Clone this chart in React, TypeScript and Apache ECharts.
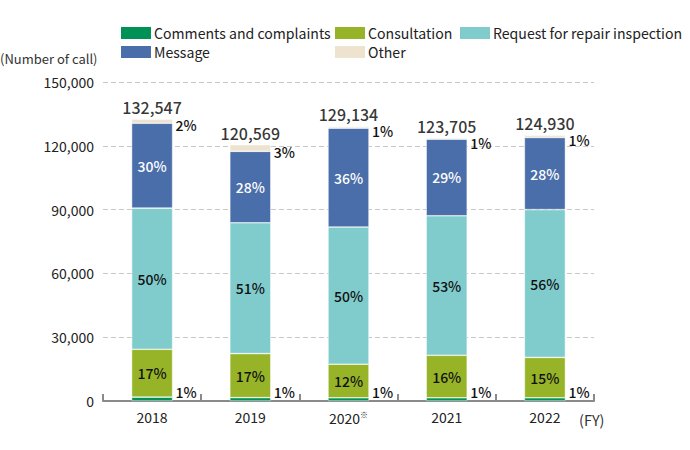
import React, { useEffect, useRef } from "react";
import * as echarts from "echarts";

const years = ["2018", "2019", "2020", "2021", "2022"];
const comments = [1800, 1600, 1500, 1500, 1500];
const consultation = [22500, 20700, 15800, 20000, 19000];
const request = [66400, 61500, 64500, 65600, 69500];
const message = [39900, 33600, 46500, 36000, 33900];
const other = [1947, 3169, 834, 605, 1030];
const totals = [132547, 120569, 129134, 123705, 124930];

const pctComments = ["1%", "1%", "1%", "1%", "1%"];
const pctConsultation = ["17%", "17%", "12%", "16%", "15%"];
const pctRequest = ["50%", "51%", "50%", "53%", "56%"];
const pctMessage = ["30%", "28%", "36%", "29%", "28%"];
const pctOther = ["2%", "3%", "1%", "1%", "1%"];

const seriesNames = ["Comments and complaints", "Consultation", "Request for repair inspection", "Message", "Other"];

const yTicks = { min: 0, max: 150000, interval: 30000 };

const FONT = "'Noto Sans CJK JP', 'Noto Sans', sans-serif";

const C = {
  comments: "#009157",
  consultation: "#97b428",
  request: "#80cccd",
  message: "#4a6ea9",
  other: "#eee3cf",
};
const colorList = [C.comments, C.consultation, C.request, C.message, C.other];

export default function App() {
  const ref = useRef<HTMLDivElement>(null);
  useEffect(() => {
    if (!ref.current) return;
    const chart = echarts.init(ref.current, null, { renderer: "svg" });
    const barW = 41;
    const seg = (
      name: string,
      data: number[],
      color: string,
      labels: string[],
      label: any
    ) => ({
      name,
      type: "bar",
      stack: "total",
      barWidth: barW,
      data,
      itemStyle: { color, borderColor: "rgba(255,255,255,0.8)", borderWidth: 0.6 },
      label: {
        show: true,
        fontFamily: FONT,
        fontSize: 14,
        fontWeight: 500,
        formatter: (p: any) => labels[p.dataIndex],
        ...label,
      },
    });
    // legend layout: [icon x, row y-center]
    const legendPos = [
      [121, 33],
      [335, 33],
      [460, 33],
      [121, 52],
      [335, 52],
    ];
    const legendGraphics: any[] = [];
    seriesNames.forEach((n, i) => {
      const [x, yc] = legendPos[i];
      legendGraphics.push({
        type: "rect",
        shape: { x, y: yc - 6, width: 30, height: 12 },
        style: { fill: colorList[i] },
        silent: true,
      });
      legendGraphics.push({
        type: "text",
        x: x + 33,
        y: yc - 0.5,
        style: {
          text: n,
          fontFamily: FONT,
          fontSize: 14.1,
          fill: "#222",
          verticalAlign: "middle",
          align: "left",
        },
        silent: true,
      });
    });
    chart.setOption({
      animation: false,
      textStyle: { fontFamily: FONT },
      grid: { left: 103, right: 96, top: 82, bottom: 49 },
      graphic: [
        ...legendGraphics,
        {
          type: "text",
          x: 0,
          y: 58,
          style: { text: "(Number of call)", fontFamily: FONT, fontSize: 13, fill: "#333", verticalAlign: "middle" },
        },
        {
          type: "text",
          x: 579,
          y: 419,
          style: { text: "(FY)", fontFamily: FONT, fontSize: 14.5, fill: "#333", verticalAlign: "middle" },
        },
      ],
      xAxis: {
        type: "category",
        data: years,
        axisLine: { lineStyle: { color: "#8a8a8a", width: 2 } },
        axisTick: { show: true, inside: true, length: 7, lineStyle: { color: "#8a8a8a", width: 2 } },
        axisLabel: {
          interval: 0,
          fontFamily: FONT,
          fontSize: 14,
          color: "#222",
          margin: 9,
          formatter: (v: string) => (v === "2020" ? "2020{sup|※}" : v),
          rich: { sup: { fontSize: 8, verticalAlign: "top", padding: [0, 0, 8, 0], color: "#222" } },
        },
      },
      yAxis: {
        type: "value",
        min: yTicks.min,
        max: yTicks.max,
        interval: yTicks.interval,
        axisLine: { show: false },
        axisTick: { show: false },
        axisLabel: {
          fontFamily: FONT,
          fontSize: 14,
          color: "#222",
          margin: 9,
          formatter: (v: number) => v.toLocaleString("en-US"),
        },
        splitLine: { lineStyle: { color: "#c8c8c8", type: [5, 3], width: 1 } },
      },
      series: [
        seg(seriesNames[0], comments, C.comments, pctComments, {
          position: "right",
          distance: 3,
          offset: [0, -7],
          color: "#111",
        }),
        seg(seriesNames[1], consultation, C.consultation, pctConsultation, {
          position: "inside",
          color: "#111",
        }),
        seg(seriesNames[2], request, C.request, pctRequest, {
          position: "inside",
          color: "#111",
        }),
        seg(seriesNames[3], message, C.message, pctMessage, {
          position: "inside",
          color: "#fff",
        }),
        seg(seriesNames[4], other, C.other, pctOther, {
          position: "right",
          distance: 3,
          offset: [0, 4],
          color: "#111",
        }),
        {
          name: "Total",
          type: "scatter",
          data: totals,
          symbolSize: 0,
          silent: true,
          label: {
            show: true,
            position: "top",
            distance: 4,
            fontFamily: FONT,
            fontSize: 16,
            fontWeight: 500,
            color: "#000",
            formatter: (p: any) => totals[p.dataIndex].toLocaleString("en-US"),
          },
        },
      ],
    });
    return () => chart.dispose();
  }, []);
  return <div ref={ref} style={{ width: 690, height: 450, position: "absolute", left: 0, top: 0 }} />;
}
